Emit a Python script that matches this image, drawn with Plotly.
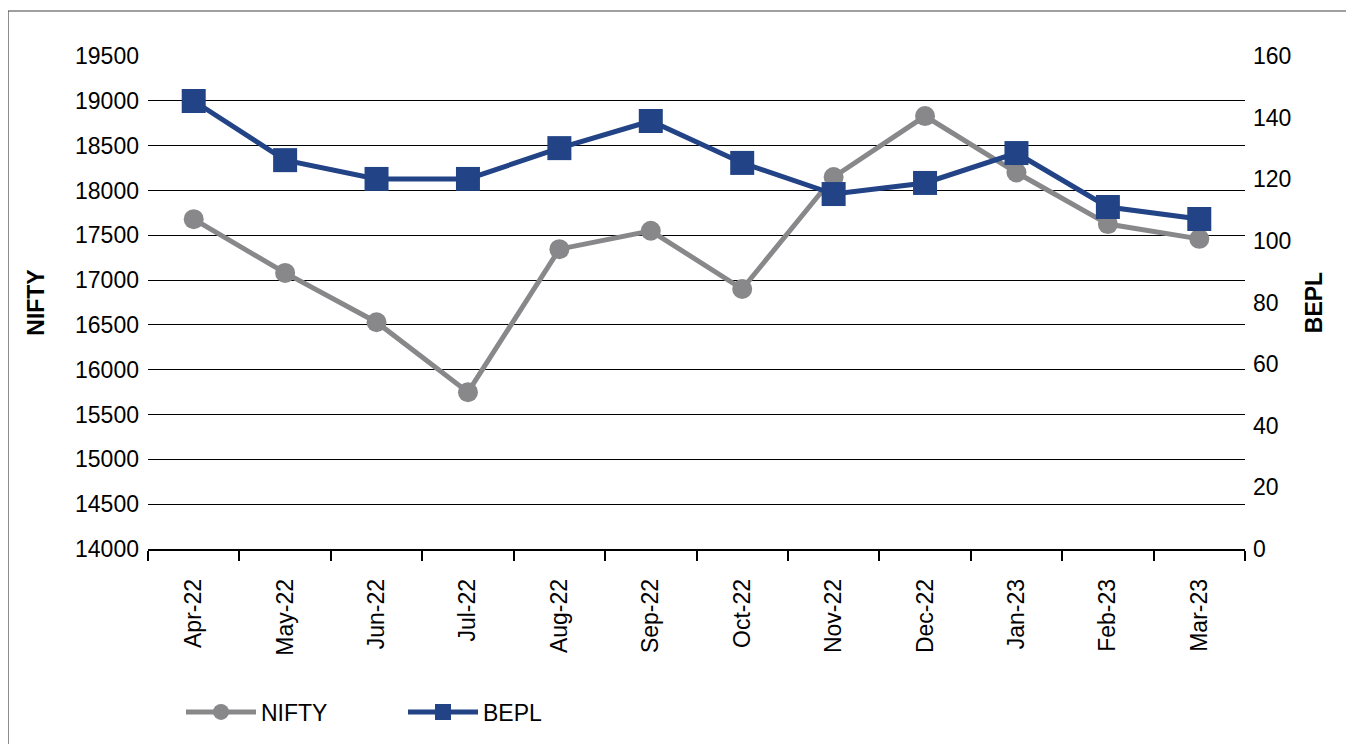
import plotly.graph_objects as go

months = ["Apr-22", "May-22", "Jun-22", "Jul-22", "Aug-22", "Sep-22", "Oct-22",
          "Nov-22", "Dec-22", "Jan-23", "Feb-23", "Mar-23"]
nifty = [17680, 17080, 16530, 15750, 17345, 17550, 16900, 18150, 18830, 18200, 17625, 17460]
bepl = [145.4, 126.2, 120.1, 120.1, 130.1, 138.9, 125.3, 115.2, 118.8, 128.5, 111.0, 107.1]

left_ticks = list(range(14000, 19501, 500))
left_labels = [str(v) for v in left_ticks]
right_ticks = list(range(0, 161, 20))
right_labels = [str(v) for v in right_ticks]

FONT = "Liberation Sans, Arial, Helvetica, sans-serif"
GRAY = "#88888a"
BLUE = "#224385"

# plot area in figure pixels (page is offset by an 8px body margin)
L, R, T, B = 140, 1237, 48, 541
PW, PH = R - L, B - T

fig = go.Figure()
fig.add_trace(go.Scatter(
    x=months, y=nifty, name="NIFTY", mode="lines+markers",
    line=dict(color=GRAY, width=5),
    marker=dict(symbol="circle", size=20, color=GRAY),
    yaxis="y",
))
fig.add_trace(go.Scatter(
    x=months, y=bepl, name="BEPL", mode="lines+markers",
    line=dict(color=BLUE, width=5),
    marker=dict(symbol="square", size=24, color=BLUE),
    yaxis="y2",
))

fig.update_layout(
    width=1354, height=744,
    margin=dict(l=L, r=1354 - R, t=T, b=744 - B),
    paper_bgcolor="white", plot_bgcolor="white",
    font=dict(family=FONT, size=23, color="black"),
    showlegend=True,
    legend=dict(orientation="h", x=(173 - L) / PW, y=(B - 704) / PH,
                xanchor="left", yanchor="middle",
                font=dict(size=23), itemwidth=70,
                entrywidth=137, entrywidthmode="pixels",
                bgcolor="rgba(0,0,0,0)"),
    xaxis=dict(
        type="category", tickangle=-90, showgrid=False,
        showline=True, linecolor="black", linewidth=1.5,
        ticks="outside", tickson="boundaries", ticklen=10, tickwidth=1.5, tickcolor="black",
        tickfont=dict(size=23), range=[-0.5, 11.5], zeroline=False,
        ticklabelstandoff=19,
    ),
    yaxis=dict(
        range=[14000, 19500], tickvals=left_ticks, ticktext=left_labels, showgrid=True,
        gridcolor="black", gridwidth=1, showline=False, zeroline=False,
        ticks="", tickfont=dict(size=23), ticklabelstandoff=8,
        title=dict(text="<b>NIFTY</b>", font=dict(size=23), standoff=23),
    ),
    yaxis2=dict(
        range=[0, 160], tickvals=right_ticks, ticktext=right_labels,
        overlaying="y", side="right",
        showgrid=False, showline=False, zeroline=False, ticks="",
        tickfont=dict(size=23), ticklabelstandoff=7,
        title=dict(text="<b>BEPL</b>", font=dict(size=23), standoff=15),
    ),
    shapes=[dict(type="rect", xref="paper", yref="paper",
                 x0=(0 - L) / PW, x1=(1341 - L) / PW,
                 y0=-0.6, y1=(B - 3) / PH,
                 line=dict(color="#404040", width=1.2), fillcolor="rgba(0,0,0,0)",
                 layer="below")],
)

fig.write_html("out.html")
